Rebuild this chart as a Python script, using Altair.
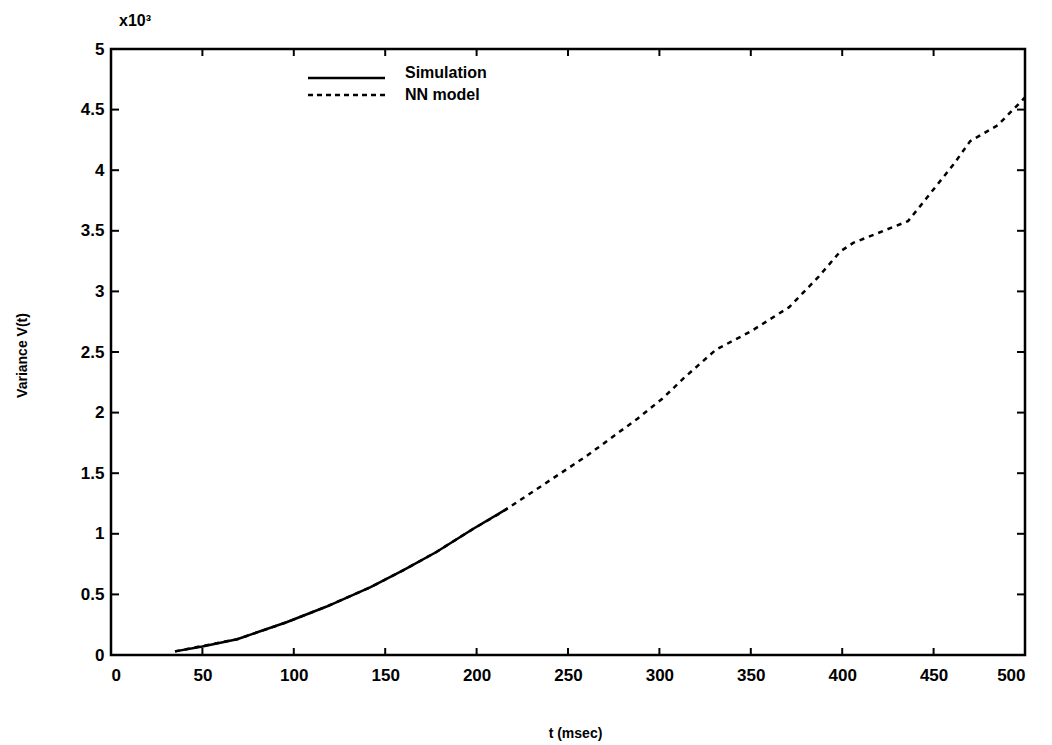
import altair as alt
import pandas as pd

# ---- data (V in units of 10^3) ----
sim_t = [35, 50, 69, 96, 118, 142, 160, 178, 198, 217]
sim_v = [0.03, 0.07, 0.13, 0.27, 0.40, 0.56, 0.70, 0.85, 1.04, 1.21]

nn_t = [35, 69, 96, 118, 142, 160, 178, 198, 213, 236, 260, 288, 302, 313,
        331, 350, 371, 387, 399, 406, 436, 443, 461, 470, 485, 500]
nn_v = [0.03, 0.13, 0.27, 0.40, 0.56, 0.70, 0.85, 1.04, 1.17, 1.40, 1.64, 1.95,
        2.12, 2.28, 2.52, 2.67, 2.87, 3.12, 3.33, 3.40, 3.58, 3.71, 4.05, 4.24,
        4.37, 4.60]

x_ticks = [0, 50, 100, 150, 200, 250, 300, 350, 400, 450, 500]
y_ticks = [0, 0.5, 1, 1.5, 2, 2.5, 3, 3.5, 4, 4.5, 5]
series_names = ["Simulation", "NN model"]
exponent_label = "x10³"
x_title = "t (msec)"
y_title = "Variance V(t)"

W, H = 914, 606
FONT = "Liberation Sans"

sim_df = pd.DataFrame({"t": sim_t, "v": sim_v})
nn_df = pd.DataFrame({"t": nn_t, "v": nn_v})
xt_df = pd.DataFrame({"t": x_ticks})
yt_df = pd.DataFrame({"v": y_ticks})

xs = alt.Scale(domain=[0, 500], nice=False, zero=False)
ys = alt.Scale(domain=[0, 5], nice=False, zero=False)

xaxis = alt.Axis(values=x_ticks, format="d", title=x_title, domain=False,
                 grid=False, tickSize=0, labelPadding=12, labelFont=FONT,
                 labelFontSize=17, labelFontWeight="bold", labelColor="black",
                 titleFont=FONT, titleFontSize=14, titleFontWeight="bold",
                 titleColor="black", titleX=464, titleY=78,
                 titleBaseline="middle")
yaxis = alt.Axis(values=y_ticks, format="~g", title=y_title, domain=False,
                 grid=False, tickSize=0, labelPadding=7, labelFont=FONT,
                 labelFontSize=17, labelFontWeight="bold", labelColor="black",
                 titleFont=FONT, titleFontSize=14, titleFontWeight="bold",
                 titleColor="black", titleX=-89, titleY=306,
                 titleBaseline="middle", titleAngle=270, titleAlign="center")

X = alt.X("t:Q", scale=xs, axis=xaxis)
Y = alt.Y("v:Q", scale=ys, axis=yaxis)

sim = alt.Chart(sim_df).mark_line(color="black", strokeWidth=2.5).encode(x=X, y=Y)
nn = alt.Chart(nn_df).mark_line(color="black", strokeWidth=2.5,
                                strokeDash=[5, 5]).encode(x=X, y=Y)

# inward MATLAB-style ticks
tick_style = dict(color="black", strokeWidth=2)
left_ticks = alt.Chart(yt_df).mark_rule(**tick_style).encode(
    y=Y, x=alt.value(0), x2=alt.value(8))
right_ticks = alt.Chart(yt_df).mark_rule(**tick_style).encode(
    y=Y, x=alt.value(W - 8), x2=alt.value(W))
bottom_ticks = alt.Chart(xt_df).mark_rule(**tick_style).encode(
    x=X, y=alt.value(H - 7), y2=alt.value(H))
top_ticks = alt.Chart(xt_df).mark_rule(**tick_style).encode(
    x=X, y=alt.value(0), y2=alt.value(7))

# legend (manual, no box like the original)
leg1 = pd.DataFrame({"name": [series_names[0]]})
leg2 = pd.DataFrame({"name": [series_names[1]]})
leg_line1 = alt.Chart(leg1).mark_rule(color="black", strokeWidth=2.5).encode(
    x=alt.value(197), x2=alt.value(274), y=alt.value(29))
leg_line2 = alt.Chart(leg2).mark_rule(color="black", strokeWidth=2.5,
                                      strokeDash=[5, 4]).encode(
    x=alt.value(197), x2=alt.value(274), y=alt.value(46))
leg_txt1 = alt.Chart(leg1).mark_text(align="left", baseline="middle",
                                     font=FONT, fontSize=16, fontWeight="bold",
                                     color="black").encode(
    x=alt.value(294), y=alt.value(24), text="name:N")
leg_txt2 = alt.Chart(leg2).mark_text(align="left", baseline="middle",
                                     font=FONT, fontSize=16, fontWeight="bold",
                                     color="black").encode(
    x=alt.value(294), y=alt.value(46), text="name:N")

exp_df = pd.DataFrame({"lab": [exponent_label]})
exp_txt = alt.Chart(exp_df).mark_text(align="left", baseline="middle",
                                      font=FONT, fontSize=16, fontWeight="bold",
                                      color="black").encode(
    x=alt.value(8), y=alt.value(-28), text="lab:N")

chart = alt.layer(
    sim, nn, left_ticks, right_ticks, bottom_ticks, top_ticks,
    leg_line1, leg_line2, leg_txt1, leg_txt2, exp_txt
).properties(
    width=W, height=H,
    autosize=alt.AutoSizeParams(type="none"),
    padding={"left": 111, "top": 49, "right": 27, "bottom": 90},
    background="white",
).configure_view(stroke="black", strokeWidth=2.5)

chart.save("out.html", embed_options={"renderer": "svg", "actions": False})
